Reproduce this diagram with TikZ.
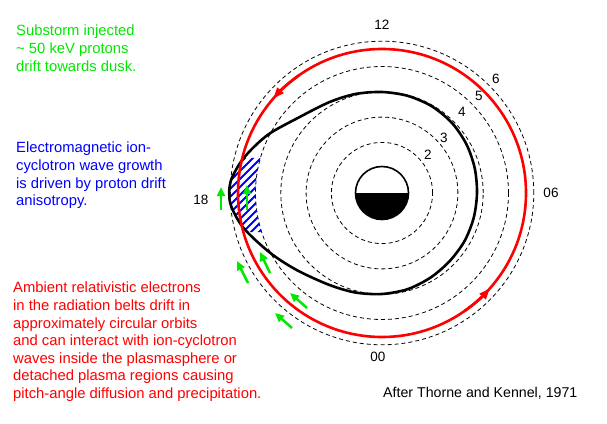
\documentclass[tikz,border=0pt]{standalone}
\usepackage{fontspec}
\setmainfont{Liberation Sans}
\usetikzlibrary{arrows.meta, positioning}
\definecolor{injgreen}{RGB}{0,232,0}
\definecolor{emicblue}{RGB}{0,0,255}
\definecolor{beltred}{RGB}{255,0,0}
\tikzset{
    shell/.style={dash pattern=on 4pt off 3pt, line width=0.8pt},
    pause/.style={line width=2.6pt, line join=round},
    belt/.style={beltred, line width=2.6pt},
    drift/.style={injgreen, line width=2.5pt, -{Triangle[length=9pt, width=8pt]}},
    note/.style={anchor=north west, align=left, inner sep=0pt, font=\fontsize{14.8}{17.6}\selectfont},
    mlt/.style={inner sep=0pt, font=\fontsize{13.5}{15}\selectfont},
}
\begin{document}
\begin{tikzpicture}[x=1pt, y=1pt]
    \useasboundingbox (-382,-230) rectangle (225,193);
    % L-shells
    \foreach \L in {2,...,6}
        \draw[shell] (0,0) circle[radius=\L*25.3];
    \foreach \L/\lx/\ly in {2/46/38, 3/62/55, 4/80/81, 5/97/97, 6/114/114}
        \node[mlt] (shell\L) at (\lx,\ly) {\L};
    % wave growth region
    \begin{scope}
        \clip (-200,35) -- (163.9:126.5) arc[start angle=163.9, end angle=197.96, radius=126.5] -- (-200,-39) -- cycle;
        \clip plot[smooth cycle] coordinates {(90:101) (105:102.5) (120:105) (138.6:113) (152:127) (161:137) (168:145) (176:152) (184:152) (194:143) (208:127) (222:115) (240:106) (255:103) (270:101) (285:99.5) (300:97.5) (315:96) (330:95.5) (345:95) (0:95) (15:96) (30:97.5) (45:99) (60:100) (75:100.5)};
        \foreach \c in {76,84,...,204}
            \draw[emicblue, line width=2pt] (-180,-180+\c) -- (-100,-100+\c);
    \end{scope}
    % plasmapause
    \draw[pause] plot[smooth cycle] coordinates {(90:101) (105:102.5) (120:105) (138.6:113) (152:127) (161:137) (168:145) (176:152) (184:152) (194:143) (208:127) (222:115) (240:106) (255:103) (270:101) (285:99.5) (300:97.5) (315:96) (330:95.5) (345:95) (0:95) (15:96) (30:97.5) (45:99) (60:100) (75:100.5)};
    % electron drift orbit
    \draw[belt] (0,0) circle[radius=144];
    \draw[belt, -{Triangle[length=11pt, width=8pt]}] (125:144) arc[start angle=125, end angle=139, radius=144];
    \draw[belt, -{Triangle[length=11pt, width=8pt]}] (-55:144) arc[start angle=-55, end angle=-41.5, radius=144];
    % Earth
    \fill (0,0) -- (0:26.5) arc[start angle=0, end angle=-180, radius=26.5] -- cycle;
    \draw[line width=1.6pt] (0,0) circle[radius=26.5];
    \draw[line width=1pt] (-26.5,0) -- (26.5,0);
    % local time
    \node[mlt] (noon) at (0,168) {12};
    \node[mlt] (dawn) at (169,0) {06};
    \node[mlt] (midnight) at (-4,-164) {00};
    \node[mlt] (dusk) at (-181,-7) {18};
    % proton drift
    \coordinate (p1) at (-161,-17); \coordinate (q1) at (-161,6);
    \coordinate (p2) at (-135,-17); \coordinate (q2) at (-135,8);
    \coordinate (p3) at (-134,-90); \coordinate (q3) at (-145,-68);
    \coordinate (p4) at (-112,-80); \coordinate (q4) at (-122,-59);
    \coordinate (p5) at (-75,-115); \coordinate (q5) at (-92,-100);
    \coordinate (p6) at (-90,-135); \coordinate (q6) at (-107,-120);
    \foreach \i in {1,...,6}
        \draw[drift] (p\i) -- (q\i);
    % notes
    \node[note, text=injgreen] (injected) at (-366,168) {Substorm injected\\\textasciitilde{} 50 keV protons\\drift towards dusk.};
    \node[note, text=emicblue] (growth) at (-366,51) {Electromagnetic ion-\\cyclotron wave growth\\is driven by proton drift\\anisotropy.};
    \node[note, text=beltred] (ambient) at (-369,-89) {Ambient relativistic electrons\\in the radiation belts drift in\\approximately circular orbits\\and can interact with ion-cyclotron\\waves inside the plasmasphere or\\detached plasma regions causing\\pitch-angle diffusion and precipitation.};
    \node[note, anchor=base west, font=\fontsize{14.2}{17}\selectfont] (source) at (1,-204) {After Thorne and Kennel, 1971};
\end{tikzpicture}
\end{document}
